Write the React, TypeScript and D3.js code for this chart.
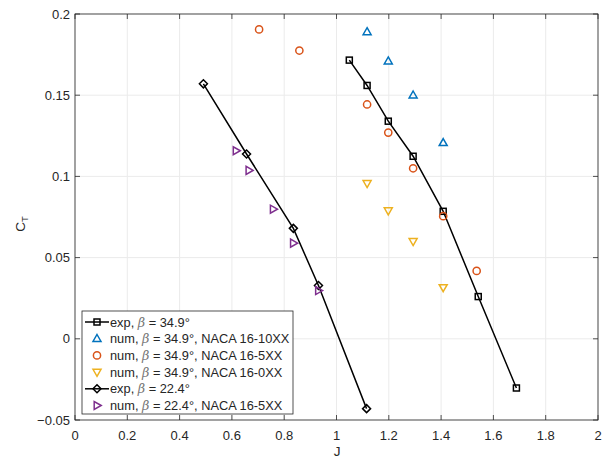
import React from "react";
import * as d3 from "d3";

const expA_J = [1.049, 1.117, 1.198, 1.293, 1.408, 1.542, 1.688];
const expA_CT = [0.1716, 0.156, 0.134, 0.1124, 0.0785, 0.026, -0.0303];
const num10_J = [1.117, 1.198, 1.293, 1.408];
const num10_CT = [0.189, 0.171, 0.15, 0.1207];
const num5_J = [0.704, 0.858, 1.117, 1.198, 1.293, 1.408, 1.536];
const num5_CT = [0.1905, 0.1775, 0.1443, 0.127, 0.105, 0.0755, 0.0418];
const num0_J = [1.117, 1.198, 1.293, 1.408];
const num0_CT = [0.0957, 0.0789, 0.06, 0.0316];
const expB_J = [0.491, 0.656, 0.835, 0.931, 1.115];
const expB_CT = [0.157, 0.1138, 0.068, 0.0328, -0.043];
const numB_J = [0.616, 0.665, 0.758, 0.835, 0.931];
const numB_CT = [0.1158, 0.1037, 0.0798, 0.0589, 0.0297];

const xTicks = [0, 0.2, 0.4, 0.6, 0.8, 1, 1.2, 1.4, 1.6, 1.8, 2];
const yTicks = [-0.05, 0, 0.05, 0.1, 0.15, 0.2];
const legendLabels = [
  ["exp, ", " = 34.9°"],
  ["num, ", " = 34.9°, NACA 16-10XX"],
  ["num, ", " = 34.9°, NACA 16-5XX"],
  ["num, ", " = 34.9°, NACA 16-0XX"],
  ["exp, ", " = 22.4°"],
  ["num, ", " = 22.4°, NACA 16-5XX"],
];

const BLUE = "#0072BD";
const ORANGE = "#D95319";
const YELLOW = "#EDB120";
const PURPLE = "#7E2F8E";

const L = 75, R = 598, T = 14, B = 420;

function Marker({ type, x, y, color }: { type: string; x: number; y: number; color: string }) {
  const sw = 1.5;
  if (type === "square") return <rect x={x - 3} y={y - 3} width={6} height={6} fill="none" stroke={color} strokeWidth={sw} />;
  if (type === "diamond") return <path d={`M${x},${y - 4}L${x + 4},${y}L${x},${y + 4}L${x - 4},${y}Z`} fill="none" stroke={color} strokeWidth={sw} />;
  if (type === "circle") return <circle cx={x} cy={y} r={3.6} fill="none" stroke={color} strokeWidth={sw} />;
  if (type === "up") return <path d={`M${x},${y - 4.2}L${x + 4},${y + 2.8}L${x - 4},${y + 2.8}Z`} fill="none" stroke={color} strokeWidth={sw} />;
  if (type === "down") return <path d={`M${x},${y + 4.2}L${x + 4},${y - 2.8}L${x - 4},${y - 2.8}Z`} fill="none" stroke={color} strokeWidth={sw} />;
  if (type === "right") return <path d={`M${x + 4.2},${y}L${x - 2.8},${y - 4}L${x - 2.8},${y + 4}Z`} fill="none" stroke={color} strokeWidth={sw} />;
  return null;
}

export default function App() {
  const x = d3.scaleLinear().domain([0, 2]).range([L, R]);
  const y = d3.scaleLinear().domain([-0.05, 0.2]).range([B, T]);
  const line = d3.line<[number, number]>().x((d) => x(d[0])).y((d) => y(d[1]));
  const zip = (a: number[], b: number[]) => a.map((v, i) => [v, b[i]] as [number, number]);

  const series = [
    { J: expA_J, CT: expA_CT, type: "square", color: "#000", line: true },
    { J: num10_J, CT: num10_CT, type: "up", color: BLUE, line: false },
    { J: num5_J, CT: num5_CT, type: "circle", color: ORANGE, line: false },
    { J: num0_J, CT: num0_CT, type: "down", color: YELLOW, line: false },
    { J: expB_J, CT: expB_CT, type: "diamond", color: "#000", line: true },
    { J: numB_J, CT: numB_CT, type: "right", color: PURPLE, line: false },
  ];

  const font = "'Liberation Sans', Arial, sans-serif";
  const legY0 = 322, legDy = 16.7;

  return (
    <svg width={606} height={459} style={{ position: "absolute", left: 0, top: 0, background: "#fff" }} fontFamily={font}>
      <rect x={0} y={0} width={606} height={459} fill="#fff" />
      {xTicks.map((t) => (
        <line key={"gx" + t} x1={x(t)} x2={x(t)} y1={T} y2={B} stroke="#ebebeb" strokeWidth={1} />
      ))}
      {yTicks.map((t) => (
        <line key={"gy" + t} x1={L} x2={R} y1={y(t)} y2={y(t)} stroke="#ebebeb" strokeWidth={1} />
      ))}
      <rect x={L} y={T} width={R - L} height={B - T} fill="none" stroke="#262626" strokeWidth={0.8} />
      {xTicks.map((t) => (
        <g key={"tx" + t}>
          <line x1={x(t)} x2={x(t)} y1={B} y2={B - 5} stroke="#262626" strokeWidth={0.8} />
          <line x1={x(t)} x2={x(t)} y1={T} y2={T + 5} stroke="#262626" strokeWidth={0.8} />
          <text x={x(t)} y={440} textAnchor="middle" fontSize={13} fill="#262626">{d3.format("")(t)}</text>
        </g>
      ))}
      {yTicks.map((t) => (
        <g key={"ty" + t}>
          <line x1={L} x2={L + 5} y1={y(t)} y2={y(t)} stroke="#262626" strokeWidth={0.8} />
          <line x1={R} x2={R - 5} y1={y(t)} y2={y(t)} stroke="#262626" strokeWidth={0.8} />
          <text x={70} y={y(t) + 4.5} textAnchor="end" fontSize={13} fill="#262626">{d3.format("")(t)}</text>
        </g>
      ))}
      <text x={337} y={456} textAnchor="middle" fontSize={13.5} fill="#262626">J</text>
      <text transform="translate(25,224) rotate(-90)" textAnchor="middle" fontSize={13.5} fill="#262626">
        C<tspan fontSize={9.5} dy={3}>T</tspan>
      </text>
      {series.filter((s) => s.line).map((s, i) => (
        <path key={"l" + i} d={line(zip(s.J, s.CT)) || ""} fill="none" stroke="#000" strokeWidth={1.5} />
      ))}
      {series.map((s, i) =>
        s.J.map((j, k) => <Marker key={i + "-" + k} type={s.type} x={x(j)} y={y(s.CT[k])} color={s.color} />)
      )}
      <rect x={82} y={311} width={211} height={103} fill="#fff" stroke="#262626" strokeWidth={0.8} />
      {series.map((s, i) => {
        const ly = legY0 + i * legDy;
        return (
          <g key={"leg" + i}>
            {s.line && <line x1={85} x2={109} y1={ly} y2={ly} stroke="#000" strokeWidth={1.5} />}
            <Marker type={s.type} x={97} y={ly} color={s.color} />
            <text x={110} y={ly + 4.5} fontSize={12.8} fill="#262626">
              {legendLabels[i][0]}
              <tspan fontFamily="'DejaVu Serif', serif" fontStyle="italic" fill="#777">β</tspan>
              {legendLabels[i][1]}
            </text>
          </g>
        );
      })}
    </svg>
  );
}
